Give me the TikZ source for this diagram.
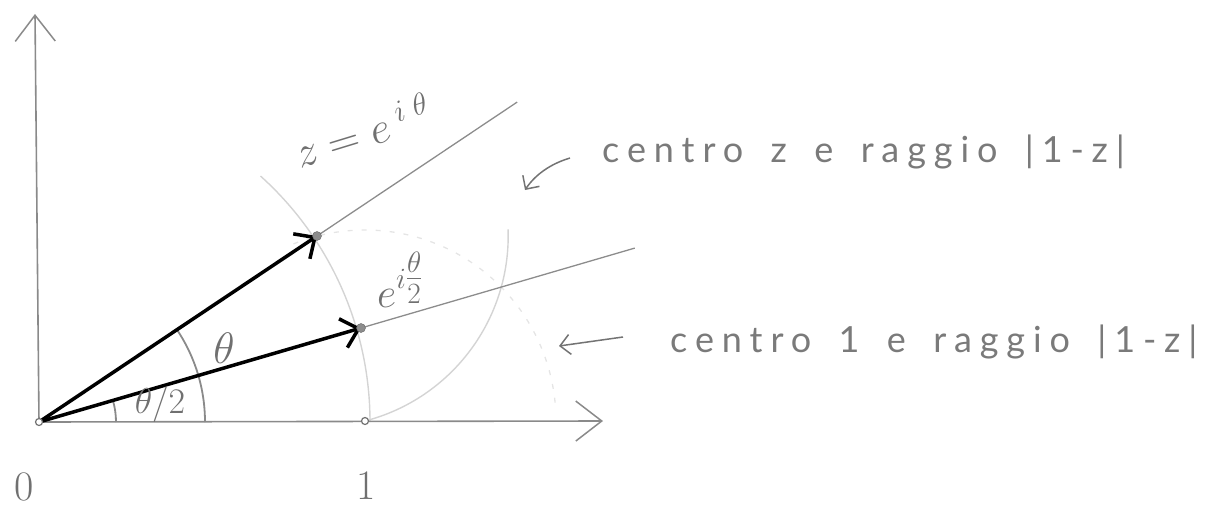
\RequirePackage{fix-cm}
\documentclass[tikz,border=0pt]{standalone}
\usepackage{fontspec}
\newfontfamily\hand[LetterSpace=22,WordSpace=1.6]{Lato}
\usetikzlibrary{arrows.meta,calc}
\definecolor{pencil}{HTML}{8A8A8A}
\definecolor{inkgray}{HTML}{707070}
\tikzset{
  axis/.style={draw=pencil, line width=1.6pt, -{Straight Barb[length=26pt,width=40pt,line width=1.5pt]}},
  vec/.style={draw=black, line width=3.5pt, -{Straight Barb[length=16pt,width=30pt]}},
  ray/.style={draw=black!45, line width=1.3pt},
  faint/.style={draw=black!17, line width=1.4pt},
  fainter/.style={draw=black!10, line width=1.3pt, dash pattern=on 5pt off 9pt},
  angarc/.style={draw=pencil, line width=1.8pt},
  lbl/.style={text=inkgray, inner sep=0pt},
  hand/.style={text=black!52, inner sep=0pt, anchor=west, font=\hand\fontsize{36}{36}\selectfont},
  dot/.style={circle, fill=black!45, draw=black!60, inner sep=0pt, minimum size=9pt},
  odot/.style={circle, draw=black!55, fill=white, line width=1.2pt, inner sep=0pt, minimum size=7pt},
  note/.style={draw=black!55, line width=1.5pt, -{Straight Barb[length=10pt,width=20pt,line width=1.5pt]}},
}
\begin{document}
\begin{tikzpicture}[x=1pt,y=-1pt]
\useasboundingbox (0,0) rectangle (1208,517);
% key points (pixel coordinates)
\coordinate (O) at (39,422);
\coordinate (P1) at (365,421);
\coordinate (Z) at (317,236);
\coordinate (H) at (361,328);
\coordinate (YT) at (35,14);
\coordinate (XT) at (603,421);
\coordinate (ZR) at ($(O)!1.72!(Z)$);
\coordinate (HR) at ($(O)!1.85!(H)$);
% faint construction arcs
\draw[fainter] ($(P1)+(-112:191)$) arc[start angle=-112, end angle=-5, radius=191];
\draw[faint] (O) ++(331,0) arc[start angle=0, end angle=-48, radius=331];
\draw[faint] (P1) arc[start angle=75.5, end angle=-2, radius=191];
% rays
\draw[ray] (O) -- (ZR);
\draw[ray] (O) -- (HR);
% axes
\draw[axis] (O) -- (YT);
\draw[axis] (O) -- (XT);
% angle arcs
\draw[angarc] (O) ++(166,0) arc[start angle=0, end angle=-34, radius=166];
\draw[angarc] (O) ++(77,0) arc[start angle=0, end angle=-16, radius=77];
% vectors
\draw[vec] (O) -- (Z);
\draw[vec] (O) -- (H);
% dots
\node[odot] (Odot) at (O) {};
\node[odot] (P1dot) at (P1) {};
\node[dot] (Zdot) at (Z) {};
\node[dot] (Hdot) at (H) {};
% labels
\node[lbl, font=\fontsize{44}{44}\selectfont] (thlab) at (224,348) {$\theta$};
\node[lbl, font=\fontsize{36}{36}\selectfont] (th2lab) at (160,404) {$\theta/2$};
\node[lbl, rotate=17, font=\fontsize{44}{44}\selectfont] (zlab) at (362,130) {$z=e^{\;i\;\theta}$};
\node[lbl, font=\fontsize{42}{42}\selectfont] (hlab) at (400,280) {$e^{i\textstyle\frac{\theta}{2}}$};
\node[lbl, font=\fontsize{42}{42}\selectfont] (zero) at (24,487) {0};
\node[lbl, font=\fontsize{42}{42}\selectfont] (one) at (366,486) {1};
\node[hand] (n1) at (602,152) {centro z e raggio |1-z|};
\node[hand] (n2) at (670,342) {centro 1 e raggio |1-z|};
% note arrows
\coordinate (a1s) at (570,158);
\coordinate (a1e) at (525,190);
\draw[note] (a1s) .. controls (550,164) and (535,175) .. (a1e);
\coordinate (a2s) at (623,337);
\coordinate (a2e) at (559,346);
\draw[note] (a2s) -- (a2e);
\end{tikzpicture}
\end{document}
